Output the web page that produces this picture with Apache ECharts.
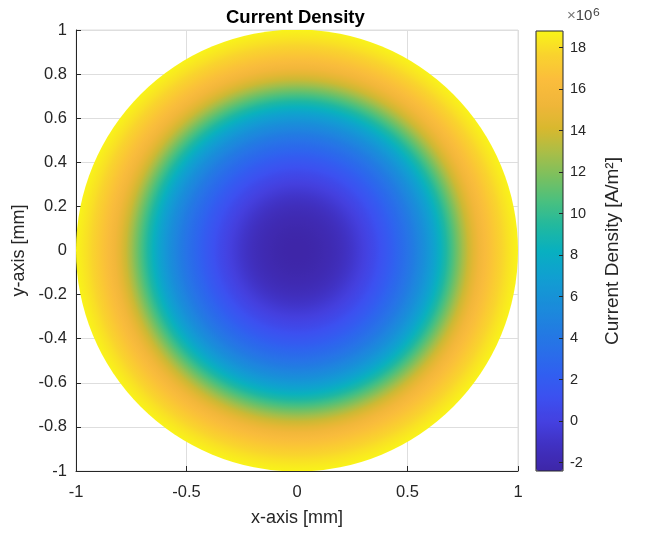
<!DOCTYPE html>
<html><head><meta charset="utf-8">
<script src="https://cdn.jsdelivr.net/npm/echarts@6/dist/echarts.min.js"></script>
<style>html,body{margin:0;padding:0;background:#fff}#c{width:646px;height:533px}</style>
</head><body><div id="c"></div>
<script>
// Radius in the wire cross-section (mm), outside to centre
const ringRadius = [1.000,0.975,0.950,0.925,0.900,0.875,0.850,0.825,0.800,0.775,
                    0.750,0.725,0.700,0.675,0.650,0.625,0.600,0.575,0.550,0.525,
                    0.500,0.475,0.450,0.425,0.400,0.375,0.350,0.325,0.300,0.275,
                    0.250,0.225,0.200,0.175,0.150,0.125,0.100,0.075,0.050,0.025,0.000];
// Current density at that radius (x10^6 A/m^2)
const ringDensity = [18.75,18.45,18.10,17.70,17.25,16.75,16.15,15.45,14.70,13.80,
                     12.75,11.55,10.40,9.30,8.30,7.35,6.50,5.70,5.00,4.30,
                     3.70,3.15,2.60,2.05,1.55,1.10,0.65,0.25,-0.15,-0.50,
                     -0.85,-1.15,-1.45,-1.70,-1.90,-2.07,-2.20,-2.30,-2.36,-2.39,-2.40];
const xTicks = [-1,-0.5,0,0.5,1];
const yTicks = [-1,-0.8,-0.6,-0.4,-0.2,0,0.2,0.4,0.6,0.8,1];
const cbTicks = [-2,0,2,4,6,8,10,12,14,16,18];
const cbRange = [-2.4, 18.8];

const parula = ['#3e26a8','#4030c0','#4440e0','#3c50f0','#3060f0','#2870e8','#2080e0',
  '#1890d8','#10a0d0','#08b0c0','#20b8a0','#48c080','#78c060','#a8be48','#d8b82e',
  '#f0b63a','#fbbd3c','#f9d22e','#f9f418'];

const FONT = '"Liberation Sans", Arial, Helvetica, sans-serif';
const AX = '#262626';
const chart = echarts.init(document.getElementById('c'), null, {renderer:'canvas'});
const data = ringRadius.map((r,i)=>[r, ringDensity[i]]);

chart.setOption({
  backgroundColor:'#fff',
  animation:false,
  textStyle:{fontFamily:FONT},
  title:[
    {text:'Current Density', left:221, top:3,
     textStyle:{fontFamily:FONT, fontSize:18.5, fontWeight:'bold', color:'#000'}},
    {text:'{x|×}{n|10}{s|⁶}', left:562, top:1,
     textStyle:{fontFamily:FONT, fontWeight:'normal', rich:{
       x:{fontFamily:FONT, fontSize:15, fontWeight:'normal', color:'#777'},
       n:{fontFamily:FONT, fontSize:15, fontWeight:'normal', color:'#444'},
       s:{fontFamily:FONT, fontSize:19, fontWeight:'normal', color:'#444'}}}}
  ],
  grid:[
    {left:76, top:30, width:442, height:441, show:true, borderColor:'#dedede', borderWidth:1, backgroundColor:'#fff'},
    {left:536, top:31, width:27, height:440, show:true, borderColor:AX, borderWidth:1, z:10, backgroundColor:'transparent'}
  ],
  xAxis:[
    {type:'value', gridIndex:0, min:xTicks[0], max:xTicks[xTicks.length-1], interval:xTicks[1]-xTicks[0],
     name:'x-axis [mm]', nameLocation:'middle', nameGap:38,
     nameTextStyle:{fontFamily:FONT, fontSize:18, color:AX},
     axisLine:{show:true, onZero:false, lineStyle:{color:AX, width:1}},
     axisTick:{show:true, inside:true, length:5, lineStyle:{color:AX}},
     axisLabel:{fontFamily:FONT, fontSize:16.5, color:AX, margin:13},
     splitLine:{show:true, lineStyle:{color:'#dedede', width:1}}},
    {type:'value', gridIndex:1, show:false, min:0, max:1}
  ],
  yAxis:[
    {type:'value', gridIndex:0, min:yTicks[0], max:yTicks[yTicks.length-1], interval:0.2,
     name:'y-axis [mm]', nameLocation:'middle', nameGap:47,
     nameTextStyle:{fontFamily:FONT, fontSize:18, color:AX},
     axisLine:{show:true, onZero:false, lineStyle:{color:AX, width:1}},
     axisTick:{show:true, inside:true, length:5, lineStyle:{color:AX}},
     axisLabel:{fontFamily:FONT, fontSize:16.5, color:AX, margin:9,
       formatter:v=>String(Math.round(v*10)/10)},
     splitLine:{show:true, lineStyle:{color:'#dedede', width:1}}},
    {type:'value', gridIndex:1, position:'right', z:12, min:cbRange[0], max:cbRange[1],
     name:'Current Density [A/m²]', nameLocation:'middle', nameRotate:90, nameGap:40,
     nameTextStyle:{fontFamily:FONT, fontSize:19, color:AX},
     axisLine:{show:false, onZero:false},
     axisTick:{show:true, inside:true, length:4, lineStyle:{color:AX}, customValues:cbTicks},
     axisLabel:{fontFamily:FONT, fontSize:14.5, color:AX, margin:7, customValues:cbTicks},
     splitLine:{show:false}}
  ],
  visualMap:{
    type:'continuous', seriesIndex:0, dimension:1, min:cbRange[0], max:cbRange[1],
    orient:'vertical', left:536, top:31, itemWidth:27, itemHeight:440, padding:0,
    calculable:false, hoverLink:false, inRange:{color:parula}
  },
  series:[{
    type:'custom', xAxisIndex:0, yAxisIndex:0, data:data, clip:true,
    encode:{x:0, y:1},
    renderItem:function(params, api){
      const i = params.dataIndexInside;
      const r = api.value(0);
      if (!(r > 0)) return null;
      const c = api.coord([0,0]);
      const s = api.size([r, r]);
      const outer = api.visual('color');
      const hasInner = i + 1 < params.dataInsideLength;
      const inner = hasInner ? api.visual('color', i + 1) : outer;
      const rIn = hasInner ? api.value(0, i + 1) : 0;
      const o = Math.max(0, Math.min(1, rIn / r));
      return {type:'circle', shape:{cx:c[0], cy:c[1], r:s[0]},
        style:{fill:{type:'radial', x:0.5, y:0.5, r:0.5, colorStops:[
          {offset:0, color:inner},{offset:o, color:inner},{offset:1, color:outer}]}, stroke:null}};
    }
  }]
});
</script></body></html>
